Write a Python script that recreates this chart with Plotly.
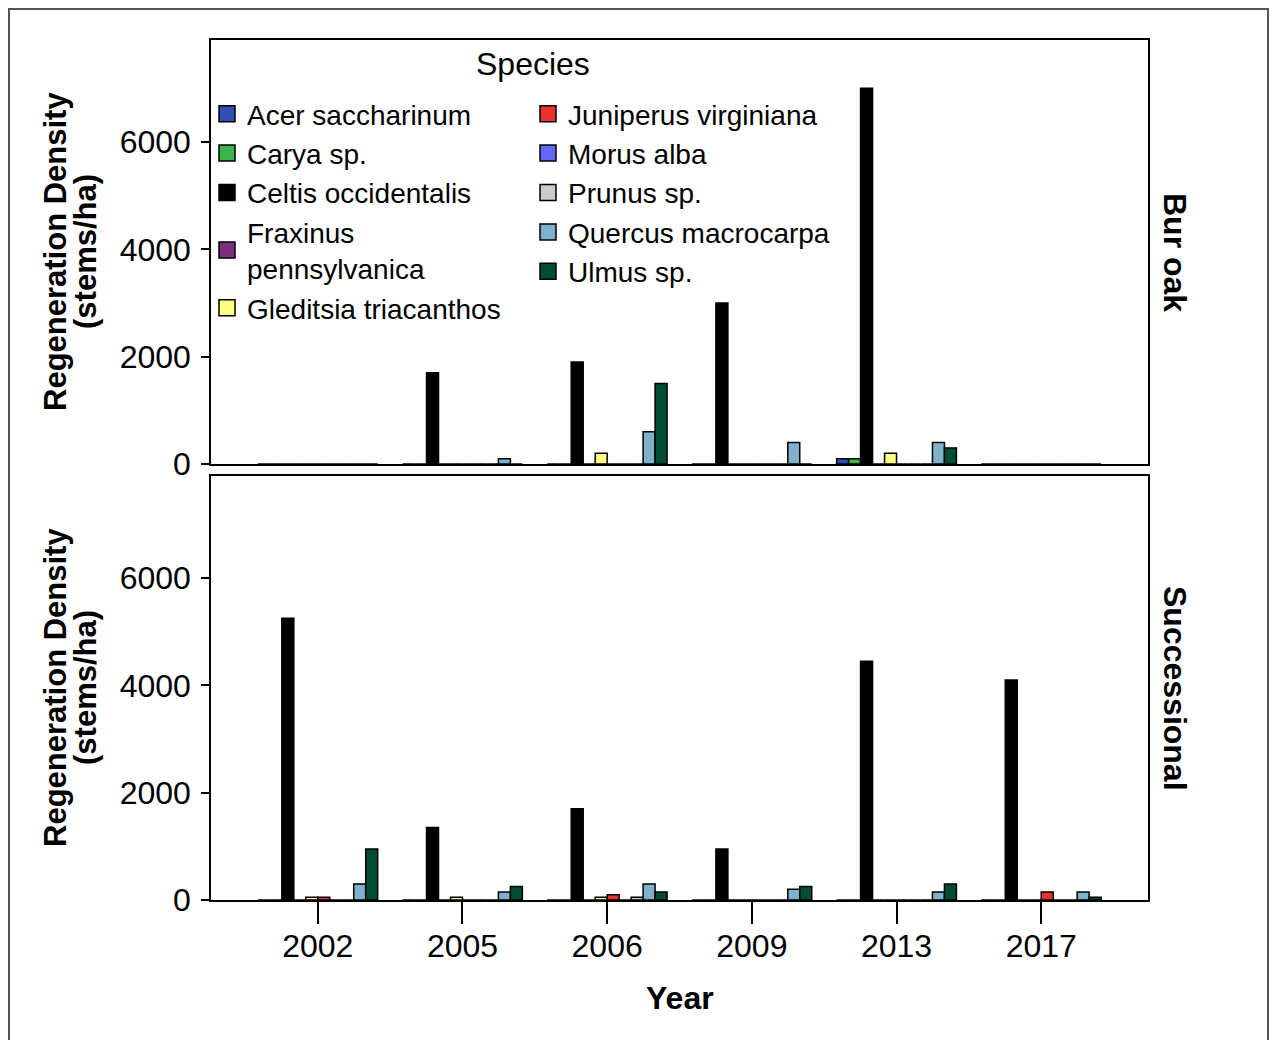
import plotly.graph_objects as go

years = ["2002", "2005", "2006", "2009", "2013", "2017"]
species = ["Acer saccharinum", "Carya sp.", "Celtis occidentalis", "Fraxinus<br>pennsylvanica",
           "Gleditsia triacanthos", "Juniperus virginiana", "Morus alba", "Prunus sp.",
           "Quercus macrocarpa", "Ulmus sp."]
colors = ["#3050B4", "#3CB44B", "#000000", "#7D2E80", "#FFFF80",
          "#E8322F", "#6666FF", "#CCCCCC", "#7EB2CC", "#004D33"]

# Bur oak panel values (stems/ha), per species, per year
bur_acer = [0, 0, 0, 0, 100, 0]
bur_carya = [0, 0, 0, 0, 100, 0]
bur_celtis = [0, 1700, 1900, 3000, 7000, 0]
bur_fraxinus = [0, 0, 0, 0, 0, 0]
bur_gleditsia = [0, 0, 200, 0, 200, 0]
bur_juniperus = [0, 0, 0, 0, 0, 0]
bur_morus = [0, 0, 0, 0, 0, 0]
bur_prunus = [0, 0, 0, 0, 0, 0]
bur_quercus = [0, 100, 600, 400, 400, 0]
bur_ulmus = [0, 0, 1500, 0, 300, 0]

# Successional panel values
suc_acer = [0, 0, 0, 0, 0, 0]
suc_carya = [0, 0, 0, 0, 0, 0]
suc_celtis = [5250, 1350, 1700, 950, 4450, 4100]
suc_fraxinus = [0, 0, 0, 0, 0, 0]
suc_gleditsia = [50, 50, 50, 0, 0, 0]
suc_juniperus = [50, 0, 100, 0, 0, 150]
suc_morus = [0, 0, 0, 0, 0, 0]
suc_prunus = [0, 0, 50, 0, 0, 0]
suc_quercus = [300, 150, 300, 200, 150, 150]
suc_ulmus = [950, 250, 150, 250, 300, 50]

bur = [bur_acer, bur_carya, bur_celtis, bur_fraxinus, bur_gleditsia,
       bur_juniperus, bur_morus, bur_prunus, bur_quercus, bur_ulmus]
suc = [suc_acer, suc_carya, suc_celtis, suc_fraxinus, suc_gleditsia,
       suc_juniperus, suc_morus, suc_prunus, suc_quercus, suc_ulmus]

FONT = "Liberation Sans, Arial, sans-serif"

fig = go.Figure()
for i, name in enumerate(species):
    fig.add_trace(go.Bar(
        x=years, y=bur[i], name=name, legendgroup=name,
        marker=dict(color=colors[i], line=dict(color="black", width=1.5)),
        xaxis="x", yaxis="y", showlegend=False))
for i, name in enumerate(species):
    fig.add_trace(go.Bar(
        x=years, y=suc[i], name=name, legendgroup=name,
        marker=dict(color=colors[i], line=dict(color="black", width=1.5)),
        xaxis="x2", yaxis="y2", showlegend=False))
# legend entries (larger square swatches)
for i, name in enumerate(species):
    leg = "legend" if i < 5 else "legend2"
    fig.add_trace(go.Scatter(
        x=[None], y=[None], mode="markers", name=name, legendgroup=name, legend=leg,
        marker=dict(symbol="square", size=16, color=colors[i],
                    line=dict(color="black", width=1.5)),
        xaxis="x", yaxis="y", showlegend=True, hoverinfo="skip"))

L, R, T, B = 211, 127, 40, 140
W, H = 1275, 1040
pw, ph = W - L - R, H - T - B

def px(xp):
    return (xp - L) / pw

def py(yp):
    return (H - B - yp) / ph

cat_pad = 0.238
yaxis_common = dict(range=[0, 7900], tickvals=[0, 2000, 4000, 6000],
                    ticks="outside", ticklen=8, tickwidth=1.5, tickcolor="black",
                    ticklabelstandoff=4,
                    showline=True, linecolor="black", linewidth=1.5, mirror=True,
                    showgrid=False, zeroline=False,
                    tickfont=dict(family=FONT, size=32, color="black"))
xaxis_common = dict(showline=True, linecolor="black", linewidth=1.5, mirror=True,
                    showgrid=False, categoryorder="array", categoryarray=years,
                    range=[-0.5 - cat_pad, len(years) - 0.5 + cat_pad])

fig.update_layout(
    width=W, height=H,
    margin=dict(l=L, r=R, t=T, b=B),
    paper_bgcolor="white", plot_bgcolor="white",
    barmode="group", bargap=0.172, bargroupgap=0,
    font=dict(family=FONT, color="black"),
    xaxis=dict(xaxis_common, domain=[0, 1], anchor="y", matches="x2",
               showticklabels=False, ticks=""),
    yaxis=dict(yaxis_common, domain=[py(464), 1], anchor="x"),
    xaxis2=dict(xaxis_common, domain=[0, 1], anchor="y2", ticks="outside",
                ticklen=22, tickwidth=1.5, tickcolor="black", ticklabelstandoff=-5,
                tickfont=dict(family=FONT, size=32, color="black")),
    yaxis2=dict(yaxis_common, domain=[0, py(476)], anchor="x2"),
    legend=dict(x=px(207), y=py(89), xanchor="left", yanchor="top",
                bgcolor="rgba(0,0,0,0)", borderwidth=0,
                font=dict(family=FONT, size=28, color="black"),
                tracegroupgap=0, valign="middle", itemsizing="trace"),
    legend2=dict(x=px(528), y=py(89), xanchor="left", yanchor="top",
                 bgcolor="rgba(0,0,0,0)", borderwidth=0,
                 font=dict(family=FONT, size=28, color="black"),
                 tracegroupgap=0, valign="middle", itemsizing="trace"),
)

ann_font_b = dict(family=FONT, size=31, color="black", weight="bold")
ann_font_b2 = dict(family=FONT, size=32, color="black", weight="bold")

def ann(text, x, y, font, angle=0):
    fig.add_annotation(text=text, x=px(x), y=py(y), xref="paper", yref="paper",
                       xanchor="center", yanchor="middle", textangle=angle,
                       showarrow=False, font=font)

ann("Species", 533, 64, dict(family=FONT, size=32, color="black"))
for yc in (252, 688):
    ann("Regeneration Density", 55, yc, ann_font_b, -90)
    ann("(stems/ha)", 85, yc, ann_font_b, -90)
ann("Bur oak", 1175, 252, ann_font_b2, 90)
ann("Successional", 1175, 688, ann_font_b2, 90)
ann("Year", 680, 998, ann_font_b2)

fig.add_shape(type="rect", xref="paper", yref="paper",
              x0=px(9), x1=px(1268), y0=py(1080), y1=py(9),
              line=dict(color="#555555", width=2), fillcolor="rgba(0,0,0,0)", layer="below")

fig.write_html("out.html")
